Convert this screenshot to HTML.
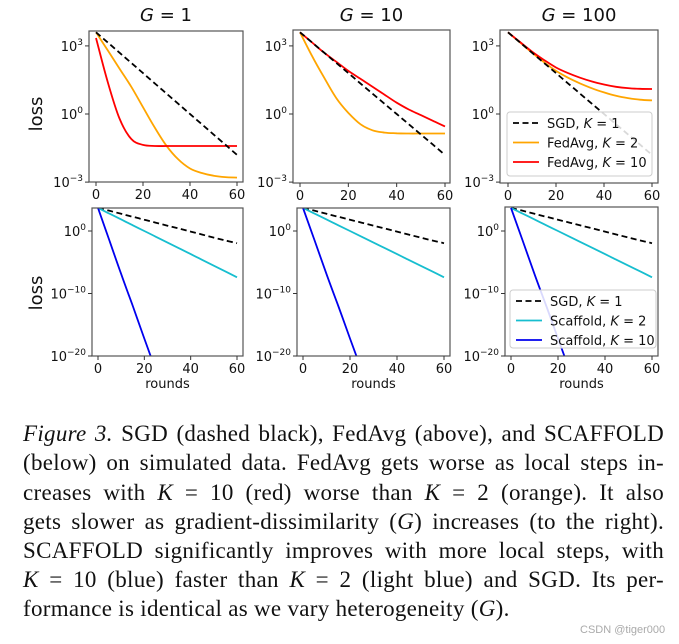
<!DOCTYPE html>
<html><head><meta charset="utf-8">
<style>
body{margin:0;background:#fff;width:679px;height:644px;overflow:hidden;position:relative}
svg{position:absolute;left:0;top:0}
.cap{position:absolute;left:23px;width:641px;font-family:"Liberation Serif",serif;font-size:23px;letter-spacing:0.3px;line-height:29px;height:29px;text-align:justify;text-align-last:justify;white-space:nowrap;color:#111}
.cap i{font-style:italic}
.wm{position:absolute;left:580px;top:624px;font-family:"Liberation Sans",sans-serif;font-size:11px;color:#aaa}
</style></head><body>
<svg id="chart" width="679" height="400"></svg>
<div class="cap" style="top:419px"><i>Figure 3.</i> SGD (dashed black), FedAvg (above), and SCAFFOLD</div>
<div class="cap" style="top:448px">(below) on simulated data. FedAvg gets worse as local steps in-</div>
<div class="cap" style="top:478px">creases with <i>K</i> = 10 (red) worse than <i>K</i> = 2 (orange). It also</div>
<div class="cap" style="top:507px">gets slower as gradient-dissimilarity (<i>G</i>) increases (to the right).</div>
<div class="cap" style="top:536px">SCAFFOLD significantly improves with more local steps, with</div>
<div class="cap" style="top:565px"><i>K</i> = 10 (blue) faster than <i>K</i> = 2 (light blue) and SGD. Its per-</div>
<div class="cap" style="top:594px;text-align-last:left">formance is identical as we vary heterogeneity (<i>G</i>).</div>
<div class="wm">CSDN @tiger000</div>
<script>
// data: log10(loss)
const rounds = [0,5,10,15,20,25,30,35,40,45,50,55,60];
const blueRounds = [0,5,10,15,20,23];
const gTitles = ["1","10","100"];
const xTicks = [0,20,40,60];
const topYTicks = [3,0,-3];
const botYTicks = [0,-10,-20];
const sgdTop = [3.6,3.15,2.7,2.25,1.8,1.35,0.9,0.45,0.0,-0.45,-0.9,-1.35,-1.8];
const fedK2_G1 = [3.6,2.8,2.0,1.2,0.3,-0.6,-1.4,-2.0,-2.4,-2.6,-2.72,-2.78,-2.8];
const fedK10_G1 = [3.35,1.4,-0.2,-1.1,-1.36,-1.41,-1.41,-1.41,-1.41,-1.41,-1.41,-1.41,-1.41];
const fedK2_G10 = [3.6,2.55,1.6,0.7,0.05,-0.45,-0.72,-0.82,-0.85,-0.86,-0.86,-0.86,-0.86];
const fedK10_G10 = [3.6,3.15,2.7,2.3,1.9,1.55,1.2,0.85,0.5,0.2,-0.05,-0.3,-0.55];
const fedK2_G100 = [3.6,3.15,2.7,2.28,1.9,1.6,1.35,1.13,0.95,0.8,0.7,0.63,0.6];
const fedK10_G100 = [3.6,3.17,2.75,2.38,2.05,1.8,1.6,1.43,1.3,1.2,1.14,1.11,1.1];
const sgdBot = [3.7,3.23,2.75,2.28,1.8,1.33,0.85,0.38,-0.1,-0.57,-1.05,-1.52,-1.95];
const scafK2 = [3.7,2.77,1.85,0.92,0.0,-0.92,-1.85,-2.77,-3.7,-4.62,-5.55,-6.47,-7.4];
const scafK10 = [3.7,-1.6,-6.9,-12.0,-17.2,-20.3];

const NS="http://www.w3.org/2000/svg";
const svg=document.getElementById('chart');
function mk(t,a,p){const e=document.createElementNS(NS,t);for(const k in a)e.setAttribute(k,a[k]);(p||svg).appendChild(e);return e;}
const F='"DejaVu Sans","Liberation Sans",sans-serif';
const topBoxes=[{l:89,r:243,t:31,b:182,x0:96,x60:237},{l:293,r:450,t:30,b:183,x0:300,x60:445},{l:500,r:658,t:30,b:183,x0:508,x60:652}];
const botBoxes=[{l:92,r:243,t:208,b:356,x0:98,x60:237},{l:297,r:450,t:208,b:356,x0:303,x60:444},{l:505,r:658,t:207,b:356,x0:511,x60:652}];
function topY(v){return 114-v*22.7;}
function botY(v){return 231-v*6.25;}
function pathD(xs,ys){
  const p=xs.map((x,i)=>[x,ys[i]]);let d='M'+p[0][0].toFixed(1)+','+p[0][1].toFixed(1);
  for(let i=0;i<p.length-1;i++){const p0=p[Math.max(0,i-1)],p1=p[i],p2=p[i+1],p3=p[Math.min(p.length-1,i+2)];
    const c1=[p1[0]+(p2[0]-p0[0])/6,p1[1]+(p2[1]-p0[1])/6],c2=[p2[0]-(p3[0]-p1[0])/6,p2[1]-(p3[1]-p1[1])/6];
    d+=' C'+c1.map(v=>v.toFixed(1))+' '+c2.map(v=>v.toFixed(1))+' '+p2[0].toFixed(1)+','+p2[1].toFixed(1);}
  return d;}
function panel(bx,yf,yticks,series,idx,row,withXlabel){
  const g=mk('g',{});
  
  
  const xf=v=>bx.x0+(bx.x60-bx.x0)*v/60;
  const cid='clip'+row+idx;
  const cp=mk('clipPath',{id:cid},g);mk('rect',{x:bx.l,y:bx.t,width:bx.r-bx.l,height:bx.b-bx.t},cp);
  series.forEach(s=>{
    const p=mk('path',{d:pathD(s.x.map(xf),s.y.map(yf)),fill:'none',stroke:s.c,'stroke-width':1.8,'clip-path':'url(#'+cid+')'},g);
    if(s.dash)p.setAttribute('stroke-dasharray','6,3.5');
    
    
  });
  const fr=mk('rect',{x:bx.l,y:bx.t,width:bx.r-bx.l,height:bx.b-bx.t,fill:'none',stroke:'#555','stroke-width':1.2},g);
  
  
  xTicks.forEach(v=>{const x=xf(v);mk('line',{x1:x,x2:x,y1:bx.b,y2:bx.b+4,stroke:'#333'},g);
    const t=mk('text',{x:x,y:bx.b+17,'text-anchor':'middle','font-size':13,'font-family':F,fill:'#111'},g);t.textContent=v;
    
    });
  yticks.forEach(v=>{const y=yf(v);mk('line',{x1:bx.l-4,x2:bx.l,y1:y,y2:y,stroke:'#333'},g);
    const t=mk('text',{x:bx.l-6,y:y+5,'text-anchor':'end','font-size':13,'font-family':F,fill:'#111'},g);
    
    
    t.appendChild(document.createTextNode('10'));
    const ts=mk('tspan',{dy:-6,'font-size':9},t);ts.textContent=String(v).replace('-','\u2212');});
  if(withXlabel){const t=mk('text',{x:(bx.l+bx.r)/2,y:bx.b+32,'text-anchor':'middle','font-size':13,'font-family':F,fill:'#111'},g);t.textContent='rounds';
    
    }
}
const topSeries=[[fedK2_G1,fedK10_G1],[fedK2_G10,fedK10_G10],[fedK2_G100,fedK10_G100]];
topBoxes.forEach((bx,i)=>{
  panel(bx,topY,topYTicks,[
    {x:rounds,y:topSeries[i][0],c:'orange',n:'fedavg-k2-line'},
    {x:rounds,y:topSeries[i][1],c:'red',n:'fedavg-k10-line'},
    {x:rounds,y:sgdTop,c:'#000',dash:1,n:'sgd-line'}],i,'top',false);
  const t=mk('text',{x:(bx.l+bx.r)/2,y:21,'text-anchor':'middle','font-size':18,'font-family':F,fill:'#111'});
  
  
  const it=mk('tspan',{'font-style':'italic'},t);it.textContent='G';
  t.appendChild(document.createTextNode(' = '+gTitles[i]));
});
botBoxes.forEach((bx,i)=>{
  panel(bx,botY,botYTicks,[
    {x:rounds,y:sgdBot,c:'#000',dash:1,n:'sgd-line'},
    {x:rounds,y:scafK2,c:'#17becf',n:'scaffold-k2-line'},
    {x:blueRounds,y:scafK10,c:'#0000ee',n:'scaffold-k10-line'}],i,'bottom',true);
});
[[114],[293]].forEach((p,i)=>{const t=mk('text',{x:42,y:p[0],'text-anchor':'middle','font-size':18,'font-family':F,fill:'#111',transform:'rotate(-90 42 '+p[0]+')'});t.textContent='loss';
  
  });
function legend(x,y,w,h,items,name){
  const g=mk('g',{});
  
  
  mk('rect',{x:x,y:y,width:w,height:h,rx:3,fill:'rgba(255,255,255,0.85)',stroke:'#ccc'},g);
  items.forEach((it,k)=>{const yy=y+11+k*19.5;
    const l=mk('line',{x1:x+6,x2:x+32,y1:yy,y2:yy,stroke:it.c,'stroke-width':1.8},g);if(it.d)l.setAttribute('stroke-dasharray','6,3.5');
    const t=mk('text',{x:x+40,y:yy+5,'font-size':13,'font-family':F,fill:'#111'},g);
    
    
    t.appendChild(document.createTextNode(it.n+', '));const s=mk('tspan',{'font-style':'italic'},t);s.textContent='K';t.appendChild(document.createTextNode(' = '+it.k));});
}
legend(507,112,145,64,[{c:'#000',d:1,n:'SGD',k:1},{c:'orange',n:'FedAvg',k:2},{c:'red',n:'FedAvg',k:10}],'legend-fedavg');
legend(510,290,146,58,[{c:'#000',d:1,n:'SGD',k:1},{c:'#17becf',n:'Scaffold',k:2},{c:'#0000ee',n:'Scaffold',k:10}],'legend-scaffold');
</script>
</body></html>
